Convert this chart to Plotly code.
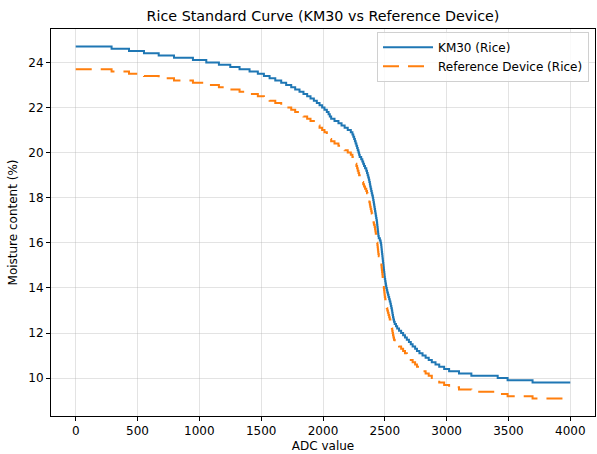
import plotly.graph_objects as go

# ---- data (step start positions, one per 0.1 % level) ----
km30_adc = [
    0, 290, 431, 552, 671, 795, 948, 1056, 1158, 1250,
    1325, 1406, 1473, 1522, 1568, 1614, 1662, 1702, 1743, 1775,
    1810, 1842, 1872, 1899, 1926, 1950, 1972, 1993, 2012, 2031,
    2045, 2055, 2066, 2093, 2125, 2150, 2175, 2200, 2225, 2238,
    2245, 2252, 2258, 2264, 2270, 2276, 2281, 2287, 2292, 2297,
    2309, 2318, 2325, 2332, 2340, 2350, 2356, 2361, 2366, 2371,
    2375, 2379, 2382, 2386, 2390, 2394, 2398, 2403, 2406, 2409,
    2412, 2415, 2418, 2421, 2424, 2427, 2430, 2433, 2436, 2438,
    2440, 2442, 2444, 2446, 2448, 2451, 2460, 2466, 2470, 2472,
    2474, 2476, 2478, 2480, 2482, 2484, 2486, 2488, 2490, 2492,
    2494, 2496, 2498, 2500, 2503, 2506, 2509, 2512, 2516, 2520,
    2525, 2530, 2535, 2540, 2545, 2549, 2553, 2557, 2560, 2563,
    2566, 2570, 2574, 2580, 2590, 2600, 2615, 2632, 2648, 2663,
    2678, 2695, 2710, 2725, 2745, 2760, 2780, 2805, 2830, 2855,
    2880, 2910, 2940, 2980, 3020, 3100, 3200, 3413, 3493, 3695,
    4000,
]
km30_moisture = [
    24.7, 24.6, 24.5, 24.4, 24.3, 24.2, 24.1, 24.0, 23.9, 23.8,
    23.7, 23.6, 23.5, 23.4, 23.3, 23.2, 23.1, 23.0, 22.9, 22.8,
    22.7, 22.6, 22.5, 22.4, 22.3, 22.2, 22.1, 22.0, 21.9, 21.8,
    21.7, 21.6, 21.5, 21.4, 21.3, 21.2, 21.1, 21.0, 20.9, 20.8,
    20.7, 20.6, 20.5, 20.4, 20.3, 20.2, 20.1, 20.0, 19.9, 19.8,
    19.7, 19.6, 19.5, 19.4, 19.3, 19.2, 19.1, 19.0, 18.9, 18.8,
    18.7, 18.6, 18.5, 18.4, 18.3, 18.2, 18.1, 18.0, 17.9, 17.8,
    17.7, 17.6, 17.5, 17.4, 17.3, 17.2, 17.1, 17.0, 16.9, 16.8,
    16.7, 16.6, 16.5, 16.4, 16.3, 16.2, 16.1, 16.0, 15.9, 15.8,
    15.7, 15.6, 15.5, 15.4, 15.3, 15.2, 15.1, 15.0, 14.9, 14.8,
    14.7, 14.6, 14.5, 14.4, 14.3, 14.2, 14.1, 14.0, 13.9, 13.8,
    13.7, 13.6, 13.5, 13.4, 13.3, 13.2, 13.1, 13.0, 12.9, 12.8,
    12.7, 12.6, 12.5, 12.4, 12.3, 12.2, 12.1, 12.0, 11.9, 11.8,
    11.7, 11.6, 11.5, 11.4, 11.3, 11.2, 11.1, 11.0, 10.9, 10.8,
    10.7, 10.6, 10.5, 10.4, 10.3, 10.2, 10.1, 10.0, 9.9, 9.8,
    9.8,
]

ref_adc = [
    0, 290, 431, 552, 671, 795, 948, 1056, 1158, 1250,
    1325, 1406, 1473, 1522, 1568, 1614, 1662, 1702, 1743, 1775,
    1810, 1842, 1872, 1899, 1926, 1950, 1972, 1993, 2012, 2031,
    2045, 2055, 2066, 2093, 2125, 2150, 2175, 2200, 2225, 2238,
    2252, 2258, 2264, 2270, 2276, 2281, 2287, 2292, 2297, 2309,
    2318, 2325, 2332, 2340, 2350, 2356, 2361, 2366, 2371, 2375,
    2379, 2382, 2386, 2390, 2394, 2398, 2403, 2406, 2409, 2412,
    2418, 2421, 2424, 2427, 2430, 2433, 2436, 2438, 2440, 2442,
    2444, 2446, 2448, 2451, 2460, 2466, 2470, 2472, 2474, 2476,
    2478, 2480, 2482, 2484, 2486, 2488, 2490, 2492, 2494, 2496,
    2498, 2500, 2503, 2506, 2509, 2512, 2516, 2520, 2525, 2530,
    2535, 2540, 2545, 2549, 2553, 2557, 2560, 2563, 2566, 2570,
    2574, 2580, 2600, 2615, 2632, 2648, 2663, 2678, 2695, 2710,
    2725, 2745, 2760, 2780, 2805, 2830, 2855, 2880, 2910, 2940,
    2980, 3020, 3100, 3200, 3413, 3493, 3695,
    4000,
]
ref_moisture = [
    23.7, 23.6, 23.5, 23.4, 23.3, 23.2, 23.1, 23.0, 22.9, 22.8,
    22.7, 22.6, 22.5, 22.4, 22.3, 22.2, 22.1, 22.0, 21.9, 21.8,
    21.7, 21.6, 21.5, 21.4, 21.3, 21.2, 21.1, 21.0, 20.9, 20.8,
    20.7, 20.6, 20.5, 20.4, 20.3, 20.2, 20.1, 20.0, 19.9, 19.8,
    19.7, 19.6, 19.5, 19.4, 19.3, 19.2, 19.1, 19.0, 18.9, 18.8,
    18.7, 18.6, 18.5, 18.4, 18.3, 18.2, 18.1, 18.0, 17.9, 17.8,
    17.7, 17.6, 17.5, 17.4, 17.3, 17.2, 17.1, 17.0, 16.9, 16.8,
    16.7, 16.6, 16.5, 16.4, 16.3, 16.2, 16.1, 16.0, 15.9, 15.8,
    15.7, 15.6, 15.5, 15.4, 15.3, 15.2, 15.1, 15.0, 14.9, 14.8,
    14.7, 14.6, 14.5, 14.4, 14.3, 14.2, 14.1, 14.0, 13.9, 13.8,
    13.7, 13.6, 13.5, 13.4, 13.3, 13.2, 13.1, 13.0, 12.9, 12.8,
    12.7, 12.6, 12.5, 12.4, 12.3, 12.2, 12.1, 12.0, 11.9, 11.8,
    11.7, 11.6, 11.5, 11.4, 11.3, 11.2, 11.1, 11.0, 10.9, 10.8,
    10.7, 10.6, 10.5, 10.4, 10.3, 10.2, 10.1, 10.0, 9.9, 9.8,
    9.7, 9.6, 9.5, 9.4, 9.3, 9.2, 9.1,
    9.1,
]

x_ticks = [0, 500, 1000, 1500, 2000, 2500, 3000, 3500, 4000]
y_ticks = [10, 12, 14, 16, 18, 20, 22, 24]

assert len(km30_adc) == len(km30_moisture)
assert len(ref_adc) == len(ref_moisture)

FONT = "DejaVu Sans"

fig = go.Figure()
fig.add_trace(go.Scatter(
    x=km30_adc, y=km30_moisture, mode="lines", name="KM30 (Rice)",
    line=dict(color="#1f77b4", width=2, shape="hv"),
))
fig.add_trace(go.Scatter(
    x=ref_adc, y=ref_moisture, mode="lines", name="Reference Device (Rice)",
    line=dict(color="#ff7f0e", width=2, shape="hv", dash="16px,9px"),
))

axis_common = dict(
    showline=True, linecolor="black", linewidth=1, mirror=True,
    ticks="outside", ticklen=4, tickcolor="black", tickwidth=1,
    showgrid=True, gridcolor="rgba(176,176,176,0.35)", gridwidth=1,
    zeroline=False, tickfont=dict(family=FONT, size=12, color="black"),
)

fig.update_layout(
    width=597, height=454,
    margin=dict(l=51, r=2, t=29, b=38),
    paper_bgcolor="white", plot_bgcolor="white",
    font=dict(family=FONT, size=12, color="black"),
    title=dict(text="Rice Standard Curve (KM30 vs Reference Device)",
               x=0.5, xref="paper", y=1 - 16 / 454, yref="container",
               xanchor="center", yanchor="middle",
               font=dict(family=FONT, size=14.3, color="black")),
    xaxis=dict(range=[-200, 4200], tickvals=x_ticks,
               title=dict(text="ADC value", standoff=4,
                          font=dict(family=FONT, size=12)),
               **axis_common),
    yaxis=dict(range=[8.32, 25.48], tickvals=y_ticks,
               title=dict(text="Moisture content (%)", standoff=8,
                          font=dict(family=FONT, size=12)),
               **axis_common),
    legend=dict(x=0.989, y=0.993, xanchor="right", yanchor="top",
                bgcolor="rgba(255,255,255,0.8)", bordercolor="#d0d0d0",
                borderwidth=1, font=dict(family=FONT, size=12),
                itemwidth=50, tracegroupgap=0),
    showlegend=True,
)

fig.write_html(
    "out.html",
    config={"displayModeBar": False},
    post_script="document.body.style.margin='0';document.body.style.overflow='hidden';",
)
